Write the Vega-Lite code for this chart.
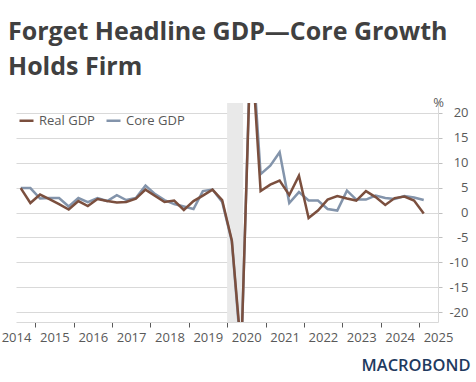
{
  "$schema": "https://vega.github.io/schema/vega-lite/v6.json",
  "width": 422,
  "height": 219,
  "autosize": {"type": "none"},
  "padding": {"left": 16, "top": 103, "right": 38, "bottom": 60},
  "background": "white",
  "title": {
    "text": ["Forget Headline GDP—Core Growth", "Holds Firm"],
    "anchor": "start",
    "frame": "group",
    "dx": -8,
    "offset": -4,
    "baseline": "alphabetic",
    "font": "Open Sans",
    "fontSize": 25,
    "fontWeight": "bold",
    "color": "#404040",
    "lineHeight": 35
  },
  "config": {
    "view": {"stroke": null},
    "font": "Open Sans",
    "axis": {"labelFont": "Open Sans", "labelFontSize": 13, "labelColor": "#595959", "titleFont": "Open Sans"},
    "legend": {"labelFont": "Open Sans"}
  },
  "datasets": {
    "gdp": [
      {"date": "2014-08-15", "Real GDP": 4.9, "Core GDP": 4.9},
      {"date": "2014-11-15", "Real GDP": 1.9, "Core GDP": 4.9},
      {"date": "2015-02-15", "Real GDP": 3.6, "Core GDP": 2.8},
      {"date": "2015-05-15", "Real GDP": 2.7, "Core GDP": 2.9},
      {"date": "2015-08-15", "Real GDP": 1.7, "Core GDP": 2.9},
      {"date": "2015-11-15", "Real GDP": 0.6, "Core GDP": 1.2},
      {"date": "2016-02-15", "Real GDP": 2.3, "Core GDP": 2.9},
      {"date": "2016-05-15", "Real GDP": 1.3, "Core GDP": 2.1},
      {"date": "2016-08-15", "Real GDP": 2.7, "Core GDP": 2.9},
      {"date": "2016-11-15", "Real GDP": 2.3, "Core GDP": 2.3},
      {"date": "2017-02-15", "Real GDP": 2.0, "Core GDP": 3.5},
      {"date": "2017-05-15", "Real GDP": 2.1, "Core GDP": 2.5},
      {"date": "2017-08-15", "Real GDP": 2.8, "Core GDP": 2.9},
      {"date": "2017-11-15", "Real GDP": 4.6, "Core GDP": 5.4},
      {"date": "2018-02-15", "Real GDP": 3.3, "Core GDP": 3.7},
      {"date": "2018-05-15", "Real GDP": 2.1, "Core GDP": 2.5},
      {"date": "2018-08-15", "Real GDP": 2.4, "Core GDP": 1.7},
      {"date": "2018-11-15", "Real GDP": 0.5, "Core GDP": 1.2},
      {"date": "2019-02-15", "Real GDP": 2.3, "Core GDP": 0.7},
      {"date": "2019-05-15", "Real GDP": 3.4, "Core GDP": 4.3},
      {"date": "2019-08-15", "Real GDP": 4.6, "Core GDP": 4.6},
      {"date": "2019-11-15", "Real GDP": 2.5, "Core GDP": 2.1},
      {"date": "2020-02-15", "Real GDP": -5.6, "Core GDP": -5.8},
      {"date": "2020-05-15", "Real GDP": -28.0, "Core GDP": -29.0},
      {"date": "2020-08-15", "Real GDP": 35.2, "Core GDP": 37.0},
      {"date": "2020-11-15", "Real GDP": 4.3, "Core GDP": 7.7},
      {"date": "2021-02-15", "Real GDP": 5.6, "Core GDP": 9.4},
      {"date": "2021-05-15", "Real GDP": 6.4, "Core GDP": 12.1},
      {"date": "2021-08-15", "Real GDP": 3.5, "Core GDP": 1.9},
      {"date": "2021-11-15", "Real GDP": 7.4, "Core GDP": 4.1},
      {"date": "2022-02-15", "Real GDP": -1.1, "Core GDP": 2.4},
      {"date": "2022-05-15", "Real GDP": 0.4, "Core GDP": 2.4},
      {"date": "2022-08-15", "Real GDP": 2.6, "Core GDP": 0.7},
      {"date": "2022-11-15", "Real GDP": 3.3, "Core GDP": 0.4},
      {"date": "2023-02-15", "Real GDP": 2.8, "Core GDP": 4.4},
      {"date": "2023-05-15", "Real GDP": 2.4, "Core GDP": 2.6},
      {"date": "2023-08-15", "Real GDP": 4.3, "Core GDP": 2.6},
      {"date": "2023-11-15", "Real GDP": 3.1, "Core GDP": 3.4},
      {"date": "2024-02-15", "Real GDP": 1.5, "Core GDP": 2.9},
      {"date": "2024-05-15", "Real GDP": 2.9, "Core GDP": 2.7},
      {"date": "2024-08-15", "Real GDP": 3.2, "Core GDP": 3.3},
      {"date": "2024-11-15", "Real GDP": 2.4, "Core GDP": 3.0},
      {"date": "2025-02-15", "Real GDP": -0.2, "Core GDP": 2.5}
    ],
    "recession": [
      {"start": "2020-01-01", "end": "2020-06-01"}
    ]
  },
  "resolve": {"axis": {"x": "independent"}},
  "layer": [
    {
      "data": {"name": "recession"},
      "mark": {"type": "rect", "color": "#e9e9e9", "clip": true},
      "encoding": {
        "x": {
          "field": "start", "type": "temporal",
          "scale": {"type": "utc", "domain": [{"year": 2014, "month": 7, "date": 1, "utc": true}, {"year": 2025, "month": 7, "date": 1, "utc": true}]},
          "axis": {
            "orient": "bottom",
            "values": [
              {"year": 2015, "month": 1, "date": 1, "utc": true},
              {"year": 2016, "month": 1, "date": 1, "utc": true},
              {"year": 2017, "month": 1, "date": 1, "utc": true},
              {"year": 2018, "month": 1, "date": 1, "utc": true},
              {"year": 2019, "month": 1, "date": 1, "utc": true},
              {"year": 2020, "month": 1, "date": 1, "utc": true},
              {"year": 2021, "month": 1, "date": 1, "utc": true},
              {"year": 2022, "month": 1, "date": 1, "utc": true},
              {"year": 2023, "month": 1, "date": 1, "utc": true},
              {"year": 2024, "month": 1, "date": 1, "utc": true},
              {"year": 2025, "month": 1, "date": 1, "utc": true}
            ],
            "labels": false,
            "grid": false,
            "ticks": true,
            "tickSize": 5,
            "tickColor": "#595959",
            "tickWidth": 1,
            "domain": true,
            "domainColor": "#d9d9d9",
            "title": "MACROBOND",
            "titleColor": "#1f3a5f",
            "titleFont": "Open Sans",
            "titleFontSize": 16.5,
            "titleFontWeight": 600,
            "titleAlign": "right",
            "titleAnchor": "end",
            "titleBaseline": "alphabetic",
            "titleX": 454,
            "titleY": 48
          }
        },
        "x2": {"field": "end"}
      }
    },
    {
      "data": {"name": "gdp"},
      "transform": [
        {"fold": ["Core GDP"], "as": ["series", "value"]}
      ],
      "mark": {"type": "line", "strokeWidth": 2.5, "clip": true},
      "encoding": {
        "x": {
          "field": "date", "type": "temporal",
          "axis": {
            "orient": "bottom",
            "values": [
              {"year": 2014, "month": 7, "date": 1, "utc": true},
              {"year": 2015, "month": 7, "date": 1, "utc": true},
              {"year": 2016, "month": 7, "date": 1, "utc": true},
              {"year": 2017, "month": 7, "date": 1, "utc": true},
              {"year": 2018, "month": 7, "date": 1, "utc": true},
              {"year": 2019, "month": 7, "date": 1, "utc": true},
              {"year": 2020, "month": 7, "date": 1, "utc": true},
              {"year": 2021, "month": 7, "date": 1, "utc": true},
              {"year": 2022, "month": 7, "date": 1, "utc": true},
              {"year": 2023, "month": 7, "date": 1, "utc": true},
              {"year": 2024, "month": 7, "date": 1, "utc": true},
              {"year": 2025, "month": 7, "date": 1, "utc": true}
            ],
            "format": "%Y",
            "labelFlush": false,
            "labelOverlap": false,
            "labelPadding": 9,
            "ticks": false,
            "domain": false,
            "grid": false,
            "title": null
          }
        },
        "y": {
          "field": "value", "type": "quantitative",
          "scale": {"domain": [-22, 22], "nice": false, "zero": false},
          "axis": {
            "orient": "right",
            "values": [-20, -15, -10, -5, 0, 5, 10, 15, 20],
            "labelExpr": "'' + datum.value",
            "labelAlign": "right",
            "labelPadding": 26,
            "labelOverlap": false,
            "labelFlush": false,
            "grid": true,
            "gridColor": "#d9d9d9",
            "domainColor": "#d9d9d9",
            "tickColor": "#bfbfbf",
            "tickSize": 4,
            "title": "%",
            "titleAngle": 0,
            "titleAlign": "center",
            "titleBaseline": "alphabetic",
            "titleX": 0,
            "titleY": 3,
            "titleFontSize": 13,
            "titleFontWeight": "normal",
            "titleColor": "#595959"
          }
        },
        "color": {
          "field": "series", "type": "nominal",
          "scale": {"domain": ["Real GDP", "Core GDP"], "range": ["#7b4f3e", "#8394ab"]},
          "legend": {
            "orient": "none",
            "legendX": 2,
            "legendY": 9,
            "direction": "horizontal",
            "title": null,
            "symbolType": "stroke",
            "symbolSize": 196,
            "symbolStrokeWidth": 2.5,
            "labelFontSize": 13,
            "labelColor": "#595959",
            "labelOffset": 4,
            "columnPadding": 6
          }
        }
      }
    },
    {
      "data": {"name": "gdp"},
      "transform": [
        {"fold": ["Real GDP"], "as": ["series", "value"]}
      ],
      "mark": {"type": "line", "strokeWidth": 2.5, "clip": true},
      "encoding": {
        "x": {"field": "date", "type": "temporal", "axis": null},
        "y": {
          "field": "value", "type": "quantitative",
          "axis": {
            "orient": "right",
            "values": [-20, -15, -10, -5, 0, 5, 10, 15, 20],
            "labelExpr": "'' + datum.value",
            "labelAlign": "right",
            "labelPadding": 26,
            "labelOverlap": false,
            "labelFlush": false,
            "grid": true,
            "gridColor": "#d9d9d9",
            "domainColor": "#d9d9d9",
            "tickColor": "#bfbfbf",
            "tickSize": 4,
            "title": "%",
            "titleAngle": 0,
            "titleAlign": "center",
            "titleBaseline": "alphabetic",
            "titleX": 0,
            "titleY": 3,
            "titleFontSize": 13,
            "titleFontWeight": "normal",
            "titleColor": "#595959"
          }
        },
        "color": {"field": "series", "type": "nominal"}
      }
    }
  ]
}
